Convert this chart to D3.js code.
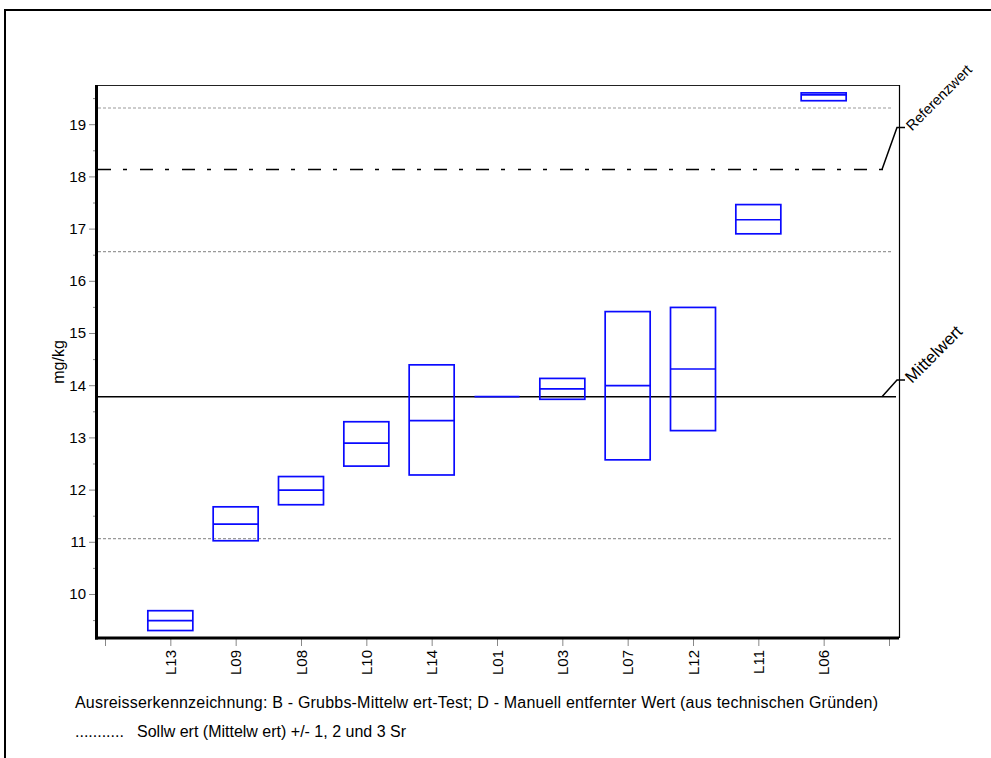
<!DOCTYPE html>
<html>
<head>
<meta charset="utf-8">
<script src="https://cdn.jsdelivr.net/npm/d3@7"></script>
<style>
  html, body { margin: 0; padding: 0; background: #fff; }
  svg { display: block; font-family: "Liberation Sans", Arial, sans-serif; }
</style>
</head>
<body>
<svg id="chart" width="991" height="758"></svg>
<script>
// ---- data ----
const categories = ["L13", "L09", "L08", "L10", "L14", "L01", "L03", "L07", "L12", "L11", "L06"];
const lowerValues = [9.30, 11.02, 11.71, 12.45, 12.28, 13.78, 13.73, 12.57, 13.13, 16.90, 19.45];
const meanValues  = [9.49, 11.34, 11.99, 12.89, 13.32, 13.78, 13.93, 13.99, 14.31, 17.17, 19.56];
const upperValues = [9.68, 11.67, 12.25, 13.30, 14.39, 13.78, 14.13, 15.41, 15.49, 17.46, 19.60];
const mittelwert = 13.78;
const referenzwert = 18.13;
const srLines = [11.06, 16.56, 19.31];
const yMajorTicks = [10, 11, 12, 13, 14, 15, 16, 17, 18, 19];
const yMinorTicks = [9.5, 10.5, 11.5, 12.5, 13.5, 14.5, 15.5, 16.5, 17.5, 18.5, 19.5];
const yDomain = [9.157, 19.751];
const yLabel = "mg/kg";
const footLine1 = "Ausreisserkennzeichnung: B - Grubbs-Mittelw ert-Test; D - Manuell entfernter Wert (aus technischen Gründen)";
const footLine2Dots = "...........";
const footLine2 = "Sollw ert (Mittelw ert) +/- 1, 2 und 3 Sr";

// ---- layout ----
const svg = d3.select("#chart");
const plot = { left: 98, right: 899, top: 85, bottom: 638 };

// outer frame (extends beyond the viewport at right/bottom)
svg.append("rect").attr("x", 5).attr("y", 10).attr("width", 1100).attr("height", 900)
  .attr("fill", "none").attr("stroke", "#000").attr("stroke-width", 2);

const pointDomain = ["_s", ...categories, "_e"];
const x = d3.scalePoint().domain(pointDomain).range([105, 889]);
const y = d3.scaleLinear().domain(yDomain).range([plot.bottom, plot.top]);

// plot frame top/right
svg.append("line").attr("x1", plot.left).attr("x2", plot.right).attr("y1", plot.top + 0.5).attr("y2", plot.top + 0.5)
  .attr("stroke", "#222").attr("stroke-width", 1.2);
svg.append("line").attr("x1", plot.right + 0.5).attr("x2", plot.right + 0.5).attr("y1", plot.top).attr("y2", plot.bottom)
  .attr("stroke", "#000").attr("stroke-width", 1.2);

// Y axis: minor ticks
const yMinor = d3.axisLeft(y).tickValues(yMinorTicks).tickSize(4).tickFormat("");
const gyMinor = svg.append("g").attr("transform", `translate(${plot.left - 1},0)`).call(yMinor);
gyMinor.select(".domain").remove();
gyMinor.selectAll(".tick line").attr("stroke", "#888");

// Y axis: major ticks
const yMajor = d3.axisLeft(y).tickValues(yMajorTicks).tickSize(8).tickPadding(3).tickFormat(d3.format("d"));
const gy = svg.append("g").attr("transform", `translate(${plot.left - 1},0)`).call(yMajor);
gy.select(".domain").remove();
gy.selectAll(".tick line").attr("stroke", "#888");
gy.selectAll(".tick text").attr("font-size", 15).attr("fill", "#000")
  .attr("font-family", "Liberation Sans, Arial, sans-serif");

// X axis
const xAxis = d3.axisBottom(x).tickSize(7).tickPadding(4)
  .tickFormat(d => categories.includes(d) ? d : "");
const gx = svg.append("g").attr("transform", `translate(0,${plot.bottom + 1})`).call(xAxis);
gx.select(".domain").remove();
gx.selectAll(".tick line").attr("stroke", "#888");
gx.selectAll(".tick text")
  .attr("font-size", 15).attr("fill", "#000")
  .attr("font-family", "Liberation Sans, Arial, sans-serif")
  .attr("text-anchor", "end")
  .attr("transform", "rotate(-90)")
  .attr("x", -11).attr("y", 0).attr("dy", "0.35em");

// y label
svg.append("text").attr("transform", `translate(64,362) rotate(-90)`)
  .attr("text-anchor", "middle").attr("font-size", 16).text(yLabel);

// Sr dotted lines
svg.selectAll(".sr").data(srLines).enter().append("line").attr("class", "sr")
  .attr("x1", plot.left).attr("x2", 892)
  .attr("y1", d => y(d)).attr("y2", d => y(d))
  .attr("stroke", "#999").attr("stroke-width", 1.2).attr("stroke-dasharray", "3,2");

// Referenzwert dash-dot
svg.append("line").attr("x1", plot.left).attr("x2", 886)
  .attr("y1", y(referenzwert)).attr("y2", y(referenzwert))
  .attr("stroke", "#000").attr("stroke-width", 1.5).attr("stroke-dasharray", "13,12,4,13");

// Mittelwert solid
svg.append("line").attr("x1", plot.left).attr("x2", 896)
  .attr("y1", y(mittelwert)).attr("y2", y(mittelwert))
  .attr("stroke", "#000").attr("stroke-width", 1.5);

// boxes
const boxW = 45;
const boxes = svg.append("g");
categories.forEach((c, i) => {
  const cx = x(c);
  const yt = y(upperValues[i]), yb = y(lowerValues[i]), ym = y(meanValues[i]);
  if (yb - yt > 0.5) {
    boxes.append("rect").attr("x", cx - boxW / 2).attr("y", yt).attr("width", boxW).attr("height", yb - yt)
      .attr("fill", "none").attr("stroke", "#0a0aff").attr("stroke-width", 1.7);
  }
  boxes.append("line").attr("x1", cx - boxW / 2).attr("x2", cx + boxW / 2).attr("y1", ym).attr("y2", ym)
    .attr("stroke", "#0a0aff").attr("stroke-width", 1.7);
});

// axes lines (thick)
svg.append("line").attr("x1", plot.left - 1.5).attr("x2", plot.left - 1.5).attr("y1", plot.top).attr("y2", plot.bottom + 1.5)
  .attr("stroke", "#000").attr("stroke-width", 3);
svg.append("line").attr("x1", plot.left - 3).attr("x2", plot.right).attr("y1", plot.bottom).attr("y2", plot.bottom)
  .attr("stroke", "#000").attr("stroke-width", 3);

// leader lines & labels
function leader(val, yEnd, label, fs) {
  const y0 = y(val);
  svg.append("polyline")
    .attr("points", `882,${y0} 897,${yEnd} 905,${yEnd}`)
    .attr("fill", "none").attr("stroke", "#000").attr("stroke-width", 1.5);
  svg.append("text").attr("transform", `translate(912,${yEnd + 4}) rotate(-45)`)
    .attr("font-size", fs).text(label);
}
leader(referenzwert, 127.5, "Referenzwert", 14.5);
leader(mittelwert, 380, "Mittelwert", 17);

// footnotes
svg.append("text").attr("x", 75).attr("y", 708).attr("font-size", 16)
  .attr("textLength", 803).attr("lengthAdjust", "spacing").text(footLine1);
svg.append("text").attr("x", 75).attr("y", 737).attr("font-size", 16).text(footLine2Dots);
svg.append("text").attr("x", 137).attr("y", 737).attr("font-size", 16).text(footLine2);
</script>
</body>
</html>
